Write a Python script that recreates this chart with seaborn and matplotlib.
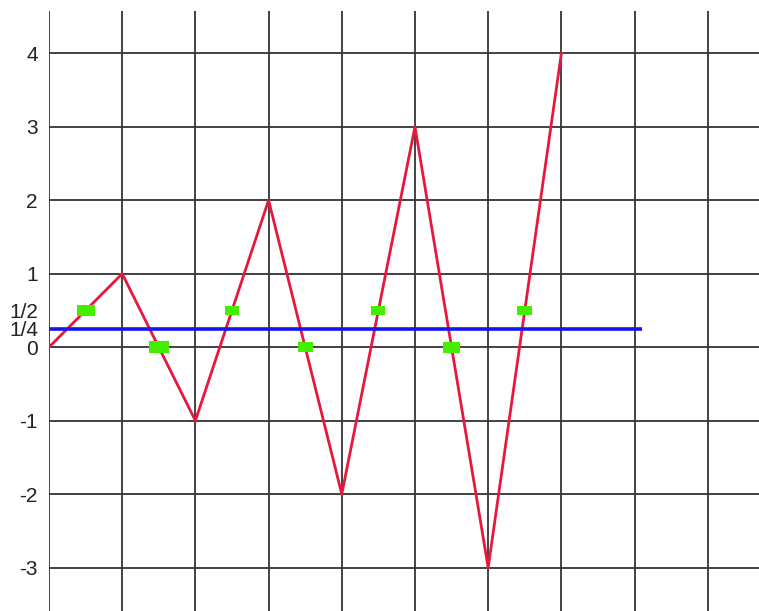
import numpy as np
import matplotlib
matplotlib.use('Agg')
import matplotlib.pyplot as plt
import seaborn as sns

#### DATA

# zigzag through the integer points
zig_x = [0, 1, 2, 3, 4, 5, 6, 7]
zig_y = [0, 1, -1, 2, -2, 3, -3, 4]

# horizontal level line
level_x = [0, 8.1]
level_y = [0.25, 0.25]

# green markers (midpoints of the zigzag segments)
mid_x = [0.5, 1.5, 2.5, 3.5, 4.5, 5.5, 6.5]
mid_y = [0.5, 0.0, 0.5, 0.0, 0.5, 0.0, 0.5]

y_major = [-3, -2, -1, 0, 1, 2, 3, 4]
y_major_labels = ['-3', '-2', '-1', '0', '1', '2', '3', '4']
y_minor = [0.25, 0.5]
y_minor_labels = ['1/4', '1/2']
x_major = [0, 1, 2, 3, 4, 5, 6, 7, 8, 9]

#### STYLE

marker_w = [13.0, 14.0, 10.0, 11.0, 10.0, 12.5, 10.5]   # marker widths in points
rect = [(-1, -0.64), (1, -0.64), (1, 0.64), (-1, 0.64), (-1, -0.64)]

#### PLOT

sns.set_style("white")
plt.rcParams['font.family'] = ['Liberation Sans', 'DejaVu Sans']

fig = plt.figure(figsize=(7.59, 6.11), dpi=100)
ax = fig.add_axes([49/759, 0, 1 - 49/759, 600/611])

for xv in x_major:
    ax.axvline(xv, color='#111111', lw=1.1, zorder=1)
for yv in y_major:
    ax.axhline(yv, color='#333333', lw=1.3, zorder=1)

sns.lineplot(x=zig_x, y=zig_y, sort=False, color='#e8173c', lw=2.0, ax=ax, zorder=3)
sns.lineplot(x=level_x, y=level_y, sort=False, color='#1414ee', lw=2.6, ax=ax, zorder=4)
ax.lines[-1].set_solid_capstyle('butt')
sns.scatterplot(x=mid_x, y=mid_y, marker=rect, s=np.array(marker_w)**2,
                color='#44ee00', edgecolor='none', linewidth=0, ax=ax, zorder=5)

ax.set_xlim(0, 9.7)
ax.set_ylim(-3.59, 4.575)

ax.set_xticks(x_major)
ax.set_xticklabels([])
ax.set_yticks(y_major)
ax.set_yticklabels(y_major_labels)
ax.set_yticks(y_minor, minor=True)
ax.set_yticklabels(y_minor_labels, minor=True)
ax.tick_params(axis='both', which='both', length=0, labelsize=15, pad=8,
               labelcolor='#222222')

for s in ax.spines.values():
    s.set_visible(False)

plt.savefig('out.png', dpi=100)
